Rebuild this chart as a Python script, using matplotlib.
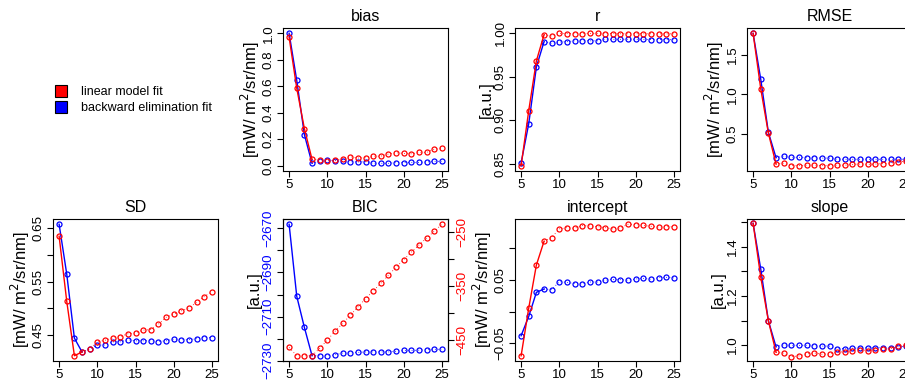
import numpy as np
import matplotlib.pyplot as plt
from matplotlib.lines import Line2D

plt.rcParams['font.family'] = ['Liberation Sans', 'DejaVu Sans']

# numero de predictores
n = np.arange(5, 26)

bias_lm = [0.97, 0.585, 0.28, 0.048, 0.045, 0.035, 0.04, 0.053, 0.068, 0.058, 0.06,
           0.072, 0.072, 0.088, 0.098, 0.093, 0.09, 0.1, 0.1, 0.125, 0.13]
bias_be = [1.0, 0.644, 0.234, 0.018, 0.036, 0.04, 0.038, 0.033, 0.03, 0.028, 0.03,
           0.018, 0.018, 0.018, 0.023, 0.023, 0.025, 0.025, 0.028, 0.033, 0.033]

r_lm = [0.8477, 0.911, 0.968, 0.998, 0.9965, 0.9996, 0.9993, 0.9992, 0.9993, 0.9995, 0.9994,
        0.9993, 0.9993, 0.9991, 0.9991, 0.9992, 0.9991, 0.9991, 0.999, 0.999, 0.999]
r_be = [0.8508, 0.896, 0.961, 0.990, 0.988, 0.9896, 0.990, 0.991, 0.991, 0.991, 0.991,
        0.9927, 0.9927, 0.9927, 0.9927, 0.9927, 0.9927, 0.9924, 0.9924, 0.9924, 0.9922]

rmse_lm = [1.77, 1.07, 0.51, 0.12, 0.13, 0.1, 0.1, 0.105, 0.105, 0.1, 0.1,
           0.105, 0.105, 0.115, 0.12, 0.115, 0.12, 0.125, 0.13, 0.15, 0.155]
rmse_be = [1.77, 1.19, 0.52, 0.2, 0.22, 0.205, 0.205, 0.2, 0.2, 0.195, 0.195,
           0.18, 0.18, 0.18, 0.18, 0.18, 0.18, 0.18, 0.18, 0.18, 0.18]

sd_lm = [0.635, 0.513, 0.411, 0.418, 0.423, 0.437, 0.440, 0.444, 0.447, 0.452, 0.454,
         0.459, 0.460, 0.470, 0.483, 0.489, 0.495, 0.501, 0.511, 0.522, 0.531]
sd_be = [0.6575, 0.564, 0.444, 0.418, 0.423, 0.431, 0.431, 0.437, 0.437, 0.441, 0.439,
         0.439, 0.439, 0.4376, 0.439, 0.442, 0.441, 0.441, 0.443, 0.445, 0.445]

bic_lm = [-464.3, -479.8, -479.8, -479.8, -466, -450.6, -434.5, -419.6, -404.7, -389, -373.6,
          -359.3, -345, -330, -315, -301, -287, -273.6, -260.6, -248, -235]
bic_be = [-2668.2, -2700.8, -2714.9, -2727.7, -2727.7, -2727.7, -2727.3, -2726.5, -2726.5,
          -2726.2, -2726.0, -2726.0, -2726.0, -2726.0, -2725.7, -2725.3, -2725.3, -2725.2,
          -2725.0, -2724.8, -2724.8]

icpt_lm = [-0.0695, 0.0058, 0.0737, 0.111, 0.117, 0.1305, 0.1326, 0.1316, 0.1358, 0.1353, 0.1342,
           0.1326, 0.1305, 0.1321, 0.1379, 0.1374, 0.1363, 0.1347, 0.1332, 0.1342, 0.1337]
icpt_be = [-0.0379, -0.0074, 0.0305, 0.0358, 0.0347, 0.0474, 0.0463, 0.0442, 0.0437, 0.0468, 0.0468,
           0.0495, 0.051, 0.0505, 0.0495, 0.0516, 0.0526, 0.051, 0.0537, 0.0542, 0.0532]

slope_lm = [1.496, 1.277, 1.099, 0.971, 0.967, 0.953, 0.956, 0.964, 0.968, 0.963, 0.964,
            0.971, 0.973, 0.978, 0.981, 0.978, 0.981, 0.984, 0.985, 0.995, 0.999]
slope_be = [1.496, 1.31, 1.099, 0.993, 1.001, 0.999, 0.999, 0.999, 0.997, 0.996, 0.996,
            0.986, 0.986, 0.987, 0.989, 0.989, 0.989, 0.990, 0.990, 0.993, 0.996]

ROJO = '#ff0000'
AZUL = '#0000ff'
UNID_RAD = r'[mW/ m$^2$/sr/nm]'
UNID_AU = '[a.u.]'

W, H = 905, 382
ANCHO = 165
fig = plt.figure(figsize=(W / 100, H / 100), dpi=100)


def crear_eje(col, fila):
    izq = [53, 283, 515, 747][col]
    arriba, abajo = [(28, 171), (219, 361)][fila]
    return fig.add_axes([izq / W, 1 - abajo / H, ANCHO / W, (abajo - arriba) / H])


def estilo_r(ax, titulo, ylab, yticks, ylabels=None, color_ticks='black'):
    ax.set_title(titulo, fontsize=11.5, pad=5)
    ax.set_ylabel(ylab, fontsize=12)
    # etiqueta del eje y a distancia fija del borde
    ax.yaxis.set_label_coords(-21 / ANCHO, 0.5)
    ax.set_xticks([5, 10, 15, 20, 25])
    ax.set_yticks(yticks)
    if ylabels is not None:
        ax.set_yticklabels(ylabels)
    ax.tick_params(direction='out', length=4, width=0.8, labelsize=9.6, pad=2)
    ax.tick_params(axis='y', labelrotation=90, labelcolor=color_ticks)
    for t in ax.get_yticklabels():
        t.set_va('center')
    for s in ax.spines.values():
        s.set_linewidth(0.8)
    ax.set_xlim(4.2, 25.8)


def serie(ax, y, color, punteado_todo=False):
    y = np.asarray(y)
    if punteado_todo:
        ax.plot(n, y, color=color, lw=0.6, ls=(0, (1, 3)))
    else:
        ax.plot(n[:4], y[:4], color=color, lw=1.0)
        ax.plot(n[3:], y[3:], color=color, lw=0.6, ls=(0, (1, 3)))
    ax.plot(n, y, 'o', mfc='none', mec=color, ms=3.6, mew=0.9)


# bias
ax = crear_eje(1, 0)
serie(ax, bias_be, AZUL)
serie(ax, bias_lm, ROJO)
ax.set_ylim(-0.04, 1.04)
estilo_r(ax, 'bias', UNID_RAD, np.arange(0, 1.01, 0.2), ['0.0', '0.2', '0.4', '0.6', '0.8', '1.0'])

# r
ax = crear_eje(2, 0)
serie(ax, r_be, AZUL)
serie(ax, r_lm, ROJO)
ax.set_ylim(0.8416, 1.0057)
estilo_r(ax, 'r', UNID_AU, [0.85, 0.90, 0.95, 1.00], ['0.85', '0.90', '0.95', '1.00'])

# RMSE
ax = crear_eje(3, 0)
serie(ax, rmse_be, AZUL)
serie(ax, rmse_lm, ROJO)
ax.set_ylim(0.032, 1.838)
estilo_r(ax, 'RMSE', UNID_RAD, [0.5, 1.0, 1.5], ['0.5', '1.0', '1.5'])

# SD
ax = crear_eje(0, 1)
serie(ax, sd_be, AZUL)
serie(ax, sd_lm, ROJO)
ax.set_ylim(0.4011, 0.6674)
estilo_r(ax, 'SD', UNID_RAD, [0.45, 0.50, 0.55, 0.60, 0.65], ['0.45', '', '0.55', '', '0.65'])

# BIC con doble eje
ax = crear_eje(1, 1)
serie(ax, bic_be, AZUL)
ax.set_ylim(-2730.1, -2665.8)
estilo_r(ax, 'BIC', UNID_AU, np.arange(-2730, -2669, 10),
         ['\u22122730', '', '\u22122710', '', '\u22122690', '', '\u22122670'], color_ticks=AZUL)
ax2 = ax.twinx()
serie(ax2, bic_lm, ROJO, punteado_todo=True)
ax2.set_ylim(-489.6, -225.2)
ax2.set_yticks([-450, -400, -350, -300, -250])
ax2.set_yticklabels(['\u2212450', '', '\u2212350', '', '\u2212250'])
ax2.tick_params(direction='out', length=4, width=0.8, labelsize=9.6, pad=2,
                labelrotation=90, labelcolor=ROJO)
for t in ax2.get_yticklabels():
    t.set_va('center')
ax2.set_xlim(4.2, 25.8)

# intercept
ax = crear_eje(2, 1)
serie(ax, icpt_be, AZUL)
serie(ax, icpt_lm, ROJO)
ax.set_ylim(-0.0778, 0.1462)
estilo_r(ax, 'intercept', UNID_RAD, [-0.05, 0.0, 0.05, 0.10], ['\u22120.05', '', '0.05', ''])

# slope
ax = crear_eje(3, 1)
serie(ax, slope_be, AZUL)
serie(ax, slope_lm, ROJO)
ax.set_ylim(0.9353, 1.5137)
estilo_r(ax, 'slope', UNID_AU, [1.0, 1.1, 1.2, 1.3, 1.4, 1.5], ['1.0', '', '1.2', '', '1.4', ''])

# leyenda
manijas = [Line2D([], [], ls='none', marker='s', ms=8, mfc=ROJO, mec='black', mew=0.8),
           Line2D([], [], ls='none', marker='s', ms=8, mfc=AZUL, mec='black', mew=0.8)]
fig.legend(manijas, ['linear model fit', 'backward elimination fit'],
           loc='center left', bbox_to_anchor=(55 / W, 1 - 100 / H), frameon=False,
           fontsize=9, handlelength=1.0, handletextpad=1.1, labelspacing=0.3,
           borderaxespad=0, borderpad=0)

fig.savefig('out.png', dpi=100)
